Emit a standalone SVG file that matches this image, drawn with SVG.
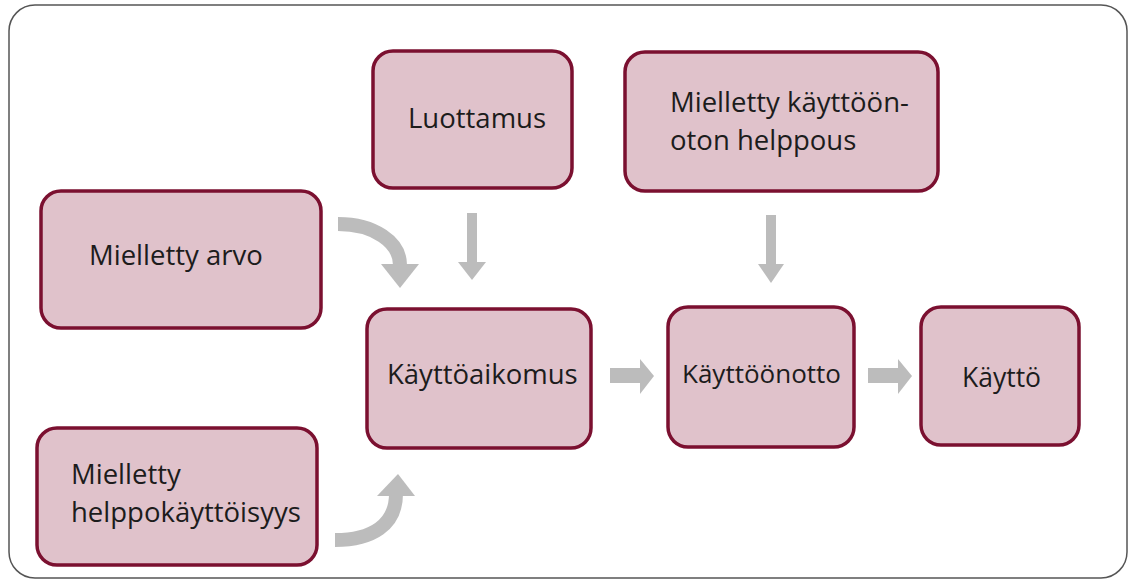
<svg xmlns="http://www.w3.org/2000/svg" width="1132" height="583" viewBox="0 0 1132 583">
<defs>
<style>
.box{fill:#e0c2cb;stroke:#7b1030;stroke-width:3.5}
.lbl{font-family:"Open Sans","Liberation Sans",sans-serif;font-size:27.5px;fill:#1c1c1c}
.arr{fill:#bcbcbc}
.cur{fill:none;stroke:#bcbcbc;stroke-width:14}
</style>
</defs>
<rect width="1132" height="583" fill="#ffffff"/>
<rect x="9" y="5" width="1118" height="573" rx="26" ry="26" fill="#ffffff" stroke="#555555" stroke-width="1.5"/>
<g id="connectors">
<path class="cur" d="M338,224 C374,224 400,242 400,265"/>
<polygon class="arr" points="381,264 419,264 400,288"/>
<path class="cur" d="M335,540 C372,540 396,525 396,494"/>
<polygon class="arr" points="377,496 415,496 398,474"/>
<rect class="arr" x="467" y="213" width="10" height="50"/>
<polygon class="arr" points="458,262 486,262 472,280"/>
<rect class="arr" x="766" y="215" width="10" height="50"/>
<polygon class="arr" points="758,264 784,264 771,283"/>
<rect class="arr" x="610" y="368" width="31" height="15"/>
<polygon class="arr" points="640,359 654,376 640,394"/>
<rect class="arr" x="868" y="368" width="31" height="15"/>
<polygon class="arr" points="898,359 912,376 898,394"/>
</g>
<g id="node-arvo">
<rect class="box" x="41" y="191" width="280" height="137" rx="20"/>
<text class="lbl" x="89" y="265">Mielletty arvo</text>
</g>
<g id="node-helppokayttoisyys">
<rect class="box" x="37" y="428" width="280" height="137" rx="20"/>
<text class="lbl" x="71" y="484">Mielletty</text>
<text class="lbl" x="71" y="522">helppokäyttöisyys</text>
</g>
<g id="node-luottamus">
<rect class="box" x="373" y="51" width="199" height="137" rx="20"/>
<text class="lbl" x="408" y="128">Luottamus</text>
</g>
<g id="node-kayttoonoton-helppous">
<rect class="box" x="625" y="52" width="313" height="139" rx="20"/>
<text class="lbl" x="670" y="112">Mielletty käyttöön-</text>
<text class="lbl" x="670" y="150">oton helppous</text>
</g>
<g id="node-kayttoaikomus">
<rect class="box" x="367" y="309" width="224" height="139" rx="20"/>
<text class="lbl" x="387" y="384">Käyttöaikomus</text>
</g>
<g id="node-kayttoonotto">
<rect class="box" x="668" y="307" width="186" height="140" rx="20"/>
<text class="lbl" x="682" y="383" style="font-size:26px">Käyttöönotto</text>
</g>
<g id="node-kaytto">
<rect class="box" x="921" y="307" width="158" height="138" rx="20"/>
<text class="lbl" x="962" y="387" style="font-size:26.5px">Käyttö</text>
</g>
</svg>
